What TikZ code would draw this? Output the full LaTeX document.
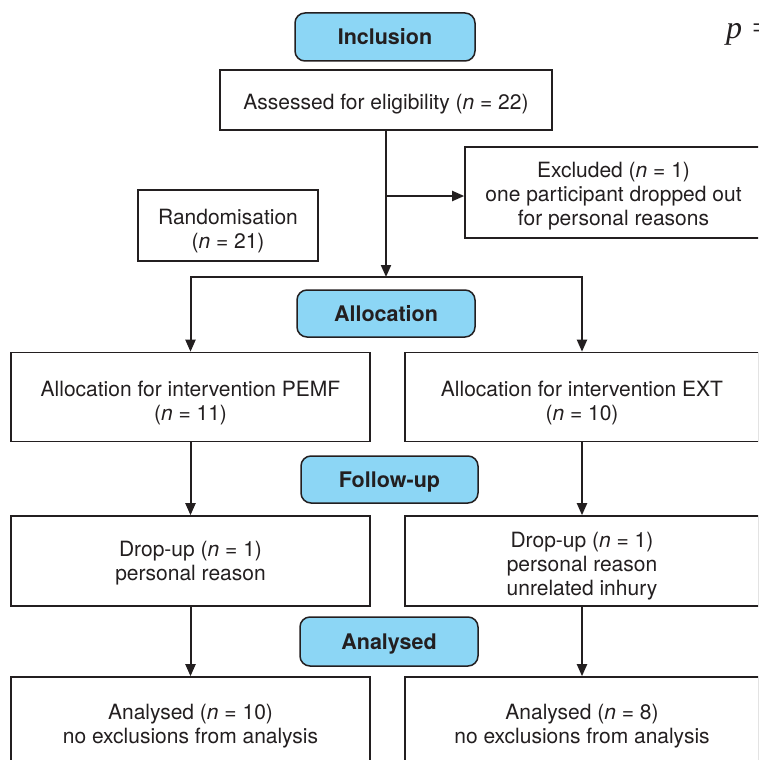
\documentclass[tikz,border=0pt]{standalone}
\usepackage{fontspec}
\setmainfont{TeX Gyre Heros}
\newfontfamily\serifit{Liberation Serif}
\usetikzlibrary{arrows.meta}
\definecolor{linec}{HTML}{231F20}
\definecolor{badgeblue}{RGB}{140,214,245}
\tikzset{
  box/.style={draw=linec, line width=1.6pt, fill=white, inner sep=0pt},
  boxtext/.style={align=center, font=\fontsize{21}{24}\selectfont, inner sep=0pt,
    text=linec, anchor=north},
  badge/.style={draw=linec, line width=1.5pt, fill=badgeblue, rounded corners=10pt,
    font=\fontsize{21.5}{24}\selectfont\bfseries, inner sep=0pt, text=linec,
    text height=18pt, text depth=3pt},
  arr/.style={draw=linec, line width=2pt, -{Triangle[length=12pt,width=10pt]}}
}
\newcommand{\nn}{\textit{n}}
\newcommand{\tst}{\rule{0pt}{16pt}}
\begin{document}
\begin{tikzpicture}[x=1pt,y=-1pt]
\useasboundingbox (0,0) rectangle (758,760);
\clip (0,0) rectangle (758,760);
% badges
\node[badge, minimum width=180pt, minimum height=48pt] (incl) at (385,37) {Inclusion};
\node[badge, minimum width=178pt, minimum height=47pt] (alloc) at (386,313.5) {Allocation};
\node[badge, minimum width=177pt, minimum height=47pt] (follow) at (389.5,479.5) {Follow-up};
\node[badge, minimum width=178pt, minimum height=49pt] (anal) at (389,641.5) {Analysed};
% boxes
\node[box, minimum width=332pt, minimum height=60pt] (assess) at (386,100) {};
\node[box, minimum width=297pt, minimum height=91pt] (excl) at (613.5,192.5) {};
\node[box, minimum width=180pt, minimum height=71pt] (rand) at (228,225.5) {};
\node[box, minimum width=359pt, minimum height=89pt] (pemf) at (190.5,397) {};
\node[box, minimum width=354pt, minimum height=89pt] (ext) at (582,397) {};
\node[box, minimum width=359pt, minimum height=90pt] (drop1) at (190.5,561) {};
\node[box, minimum width=354pt, minimum height=90pt] (drop2) at (582,561) {};
\node[box, minimum width=359pt, minimum height=89pt] (an1) at (190.5,721.5) {};
\node[box, minimum width=354pt, minimum height=89pt] (an2) at (582,721.5) {};
% box texts
\node[boxtext] (assess-t) at ([yshift=-24pt]assess.north) {\tst Assessed for eligibility (\nn{} = 22)};
\node[boxtext] (excl-t) at ([yshift=-15.2pt]excl.north) {\tst Excluded (\nn{} = 1)\\one participant dropped out\\for personal reasons};
\node[boxtext] (rand-t) at ([yshift=-19pt]rand.north) {\tst Randomisation\\(\nn{} = 21)};
\node[boxtext] (pemf-t) at ([yshift=-29pt]pemf.north) {\tst Allocation for intervention PEMF\\(\nn{} = 11)};
\node[boxtext] (ext-t) at ([yshift=-29pt]ext.north) {\tst Allocation for intervention EXT\\(\nn{} = 10)};
\node[boxtext] (drop1-t) at ([yshift=-25.3pt]drop1.north) {\tst Drop-up (\nn{} = 1)\\personal reason};
\node[boxtext] (drop2-t) at ([yshift=-16.3pt]drop2.north) {\tst Drop-up (\nn{} = 1)\\personal reason\\unrelated inhury};
\node[boxtext] (an1-t) at ([yshift=-26.6pt]an1.north) {\tst Analysed (\nn{} = 10)\\no exclusions from analysis};
\node[boxtext] (an2-t) at ([yshift=-26.6pt]an2.north) {\tst Analysed (\nn{} = 8)\\no exclusions from analysis};
% fragment of neighbouring text
\node[anchor=base west, inner sep=0pt, text=linec, font=\serifit\itshape\fontsize{32}{34}\selectfont] (pfrag) at (726,38) {p =};
% connectors
\coordinate (split) at (386,277);
\draw[arr] (assess.south) -- (split);
\draw[arr] (assess.south |- excl.west) ++(0,3.5) -- ([yshift=-3.5pt]excl.west);
\draw[arr] (split) -| (pemf.north);
\draw[arr] (split) -| (ext.north);
\draw[arr] (pemf.south) -- (drop1.north);
\draw[arr] (ext.south) -- (drop2.north);
\draw[arr] (drop1.south) -- (an1.north);
\draw[arr] (drop2.south) -- (an2.north);
\end{tikzpicture}
\end{document}
